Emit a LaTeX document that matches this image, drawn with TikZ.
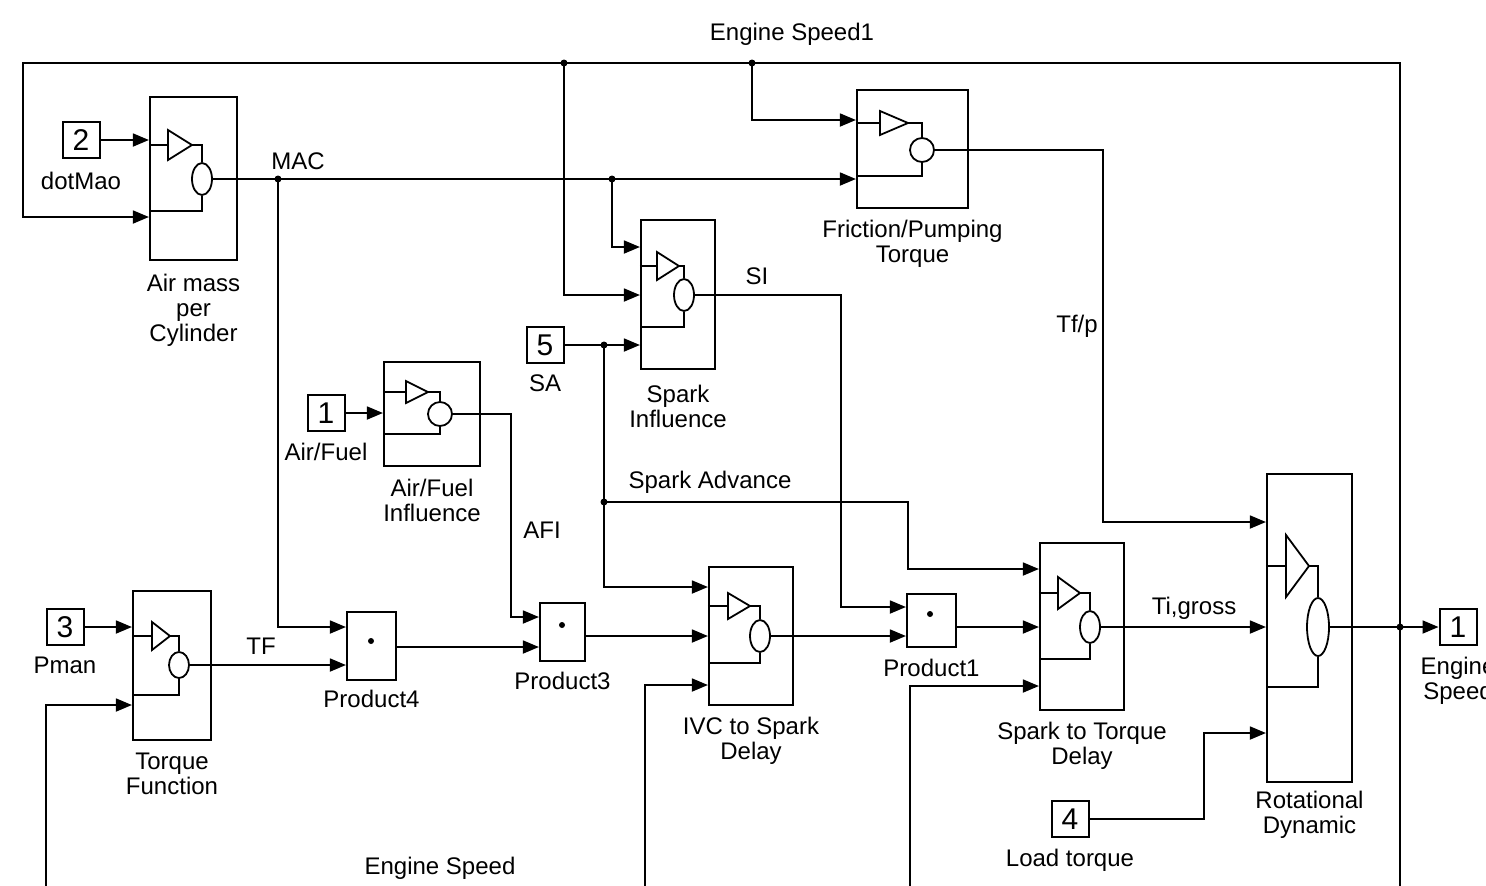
\documentclass[tikz,border=0pt]{standalone}
\usepackage{fontspec}
\setmainfont{Liberation Sans}
\usetikzlibrary{arrows.meta,positioning,fit,shapes.geometric}
\tikzset{
    blk/.style={draw,line width=1.1pt,inner sep=0pt},
    port/.style={draw,line width=1pt,minimum width=18.5pt,minimum height=18pt,inner sep=0pt,font=\fontsize{15}{15}\selectfont},
    lbl/.style={align=center,inner sep=1pt,font=\fontsize{12}{12.5}\selectfont},
    wire/.style={line width=0.9pt},
    sig/.style={wire,-{Triangle[length=8pt,width=6.5pt]}},
    ell/.style={ellipse,draw,line width=0.9pt,inner sep=0pt},
    jdot/.style={circle,fill,inner sep=0pt,minimum size=3.5pt},
    pdot/.style={circle,fill,inner sep=0pt,minimum size=3pt}
}
\newcommand{\subicon}[7]{%
    \draw[wire] (#1.west |- 0,#4) -- (#3,#4);
    \draw[wire,line join=miter] (#3,#4-#5) -- (#6,#4) -- (#3,#4+#5) -- cycle;
    \draw[wire] (#6,#4) -| (#2.north);
    \draw[wire] (#2.south) |- (#1.west |- 0,#7);
}

\begin{document}
\begin{tikzpicture}[x=0.5pt,y=-0.5pt,node distance=4.5pt]
    \useasboundingbox (0,0) rectangle (1486,885);

    \node[blk,fit={(150,97)(237,260)}] (airmass) {};
    \node[blk,fit={(857,90)(968,208)}] (fric) {};
    \node[blk,fit={(641,220)(715,369)}] (spkinf) {};
    \node[blk,fit={(384,362)(480,466)}] (afinf) {};
    \node[blk,fit={(133,591)(211,740)}] (torq) {};
    \node[blk,fit={(709,567)(793,705)}] (ivc) {};
    \node[blk,fit={(1040,543)(1124,710)}] (s2t) {};
    \node[blk,fit={(1267,474)(1352,782)}] (rotdyn) {};
    \node[blk,fit={(347,612)(396,680)}] (prod4) {};
    \node[blk,fit={(540,603)(585,661)}] (prod3) {};
    \node[blk,fit={(907,594)(956,647)}] (prod1) {};
    \node[pdot] at (371,641) {};
    \node[pdot] at (562,625) {};
    \node[pdot] at (930,614) {};

    \node[ell,minimum width=10pt,minimum height=16pt] (airmass-e) at (202,179) {};
    \node[ell,minimum width=12pt,minimum height=12pt] (fric-e) at (922,150) {};
    \node[ell,minimum width=10pt,minimum height=16pt] (spkinf-e) at (684,295) {};
    \node[ell,minimum width=12pt,minimum height=12pt] (afinf-e) at (440,414) {};
    \node[ell,minimum width=10pt,minimum height=13pt] (torq-e) at (179,665) {};
    \node[ell,minimum width=10pt,minimum height=16pt] (ivc-e) at (760,636) {};
    \node[ell,minimum width=10pt,minimum height=16pt] (s2t-e) at (1090,627) {};
    \node[ell,minimum width=11pt,minimum height=29pt] (rotdyn-e) at (1318,627) {};
    \subicon{airmass}{airmass-e}{168}{145}{15}{192}{211}
    \subicon{fric}{fric-e}{880}{123}{12}{908}{176}
    \subicon{spkinf}{spkinf-e}{657}{266}{14}{679}{327}
    \subicon{afinf}{afinf-e}{406}{392}{11}{428}{434}
    \subicon{torq}{torq-e}{152}{636}{14}{170}{695}
    \subicon{ivc}{ivc-e}{728}{606}{13}{750}{663}
    \subicon{s2t}{s2t-e}{1058}{593}{16}{1080}{659}
    \subicon{rotdyn}{rotdyn-e}{1286}{566}{31}{1309}{687}

    \node[lbl,below=5.5pt of airmass] {Air mass\\per\\Cylinder};
    \node[lbl,below=4.5pt of fric] {Friction/Pumping\\Torque};
    \node[lbl,below=6.5pt of spkinf] {Spark\\Influence};
    \node[lbl,below=5pt of afinf] {Air/Fuel\\Influence};
    \node[lbl,below=4.5pt of torq] {Torque\\Function};
    \node[lbl,below=4.5pt of ivc] {IVC to Spark\\Delay};
    \node[lbl,below=4.5pt of s2t] {Spark to Torque\\Delay};
    \node[lbl,below=3pt of rotdyn] {Rotational\\Dynamic};
    \node[lbl,below=3.5pt of prod4] {Product4};
    \node[lbl,below=4pt of prod3] {Product3};
    \node[lbl,below=4.5pt of prod1] {Product1};

    \node[port] (in2) at (81,140) {2};
    \node[lbl,below=5.5pt of in2] {dotMao};
    \node[port] (in1) at (326,413) {1};
    \node[lbl,below=4.5pt of in1] {Air/Fuel};
    \node[port] (in3) at (65,627) {3};
    \node[lbl,below=4.5pt of in3] {Pman};
    \node[port] (in5) at (545,345) {5};
    \node[lbl,below=4pt of in5] {SA};
    \node[port] (in4) at (1070,819) {4};
    \node[lbl,below=4.5pt of in4] {Load torque};
    \node[port] (out1) at (1458,627) {1};
    \node[lbl,below=4.5pt of out1] {Engine\\Speed};

    \node[lbl] (es1) at (792,34) {Engine Speed1};
    \node[lbl] (es0) at (440,868) {Engine Speed};
    \node[lbl] at (298,161) {MAC};
    \node[lbl] at (757,276) {SI};
    \node[lbl] at (1077,326) {Tf/p};
    \node[lbl] at (710,482) {Spark Advance};
    \node[lbl] at (542,530) {AFI};
    \node[lbl] at (261,646) {TF};
    \node[lbl] at (1194,608) {Ti,gross};

    \node[jdot] (jes) at (1400,627) {};
    \node[jdot] (jtop1) at (564,63) {};
    \node[jdot] (jtop2) at (752,63) {};
    \node[jdot] (jmac1) at (278,179) {};
    \node[jdot] (jmac2) at (612,179) {};
    \node[jdot] (jsa) at (604,345) {};
    \node[jdot] (jadv) at (604,502) {};
    \coordinate (bot-torq) at (46,900);
    \coordinate (bot-ivc) at (645,900);
    \coordinate (bot-s2t) at (910,900);

    \draw[sig] (jes.center) -- (1400,63) -- (23,63) |- (airmass.west |- 0,217);
    \draw[wire] (jes.center) -- (1400,900) -- (bot-torq);
    \draw[sig] (jtop1.center) |- (spkinf.west |- 0,295);
    \draw[sig] (jtop2.center) |- (fric.west |- 0,120);
    \draw[sig] (in2) -- (airmass.west |- in2);
    \draw[sig] (airmass-e) -- (fric.west |- airmass-e);
    \draw[sig] (jmac1.center) |- (prod4.west |- 0,627);
    \draw[sig] (jmac2.center) |- (spkinf.west |- 0,247);
    \draw[sig] (fric-e) -- (1103,150) |- (rotdyn.west |- 0,522);
    \draw[sig] (spkinf-e) -- (841,295) |- (prod1.west |- 0,607);
    \draw[sig] (in5) -- (spkinf.west |- in5);
    \draw[sig] (jsa.center) |- (ivc.west |- 0,587);
    \draw[sig] (jadv.center) -- (908,502) |- (s2t.west |- 0,569);
    \draw[sig] (in1) -- (afinf.west |- in1);
    \draw[sig] (afinf-e) -- (511,414) |- (prod3.west |- 0,617);
    \draw[sig] (in3) -- (torq.west |- in3);
    \draw[sig] (bot-torq) |- (torq.west |- 0,705);
    \draw[sig] (torq-e) -- (prod4.west |- torq-e);
    \draw[sig] (prod4.east |- 0,647) -- (prod3.west |- 0,647);
    \draw[sig] (prod3.east |- 0,636) -- (ivc.west |- 0,636);
    \draw[sig] (ivc-e) -- (prod1.west |- ivc-e);
    \draw[sig] (bot-ivc) |- (ivc.west |- 0,685);
    \draw[sig] (prod1.east |- 0,627) -- (s2t.west |- 0,627);
    \draw[sig] (bot-s2t) |- (s2t.west |- 0,686);
    \draw[sig] (s2t-e) -- (rotdyn.west |- s2t-e);
    \draw[sig] (in4) -- (1204,819) |- (rotdyn.west |- 0,733);
    \draw[sig] (rotdyn-e) -- (out1);
\end{tikzpicture}
\end{document}
